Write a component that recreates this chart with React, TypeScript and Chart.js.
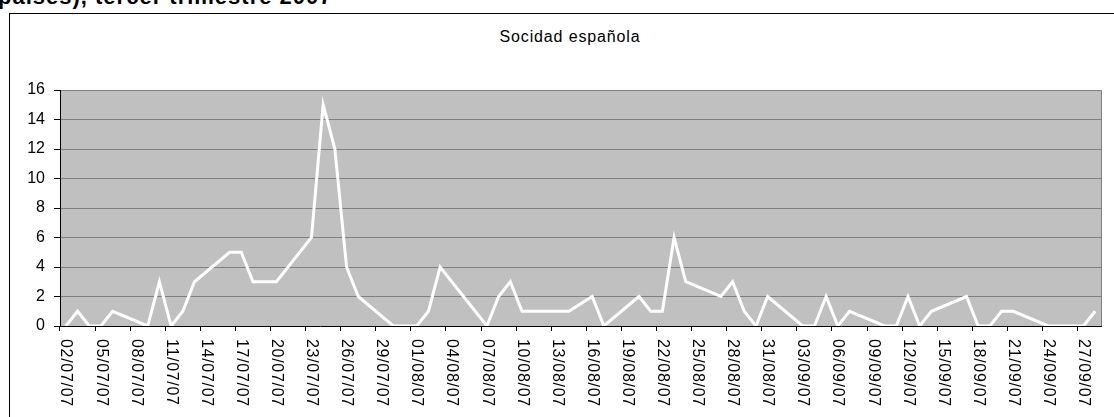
import React, { useEffect, useRef } from 'react';
import { Chart, registerables } from 'chart.js';

Chart.register(...registerables);

const headingText = 'países), tercer trimestre 2007';
const chartTitle = 'Socidad española';

const categories: string[] = [
  '02/07/07', '03/07/07', '04/07/07', '05/07/07', '06/07/07', '07/07/07', '08/07/07', '09/07/07', '10/07/07', '11/07/07',
  '12/07/07', '13/07/07', '14/07/07', '15/07/07', '16/07/07', '17/07/07', '18/07/07', '19/07/07', '20/07/07', '21/07/07',
  '22/07/07', '23/07/07', '24/07/07', '25/07/07', '26/07/07', '27/07/07', '28/07/07', '29/07/07', '30/07/07', '31/07/07',
  '01/08/07', '02/08/07', '03/08/07', '04/08/07', '05/08/07', '06/08/07', '07/08/07', '08/08/07', '09/08/07', '10/08/07',
  '11/08/07', '12/08/07', '13/08/07', '14/08/07', '15/08/07', '16/08/07', '17/08/07', '18/08/07', '19/08/07', '20/08/07',
  '21/08/07', '22/08/07', '23/08/07', '24/08/07', '25/08/07', '26/08/07', '27/08/07', '28/08/07', '29/08/07', '30/08/07',
  '31/08/07', '01/09/07', '02/09/07', '03/09/07', '04/09/07', '05/09/07', '06/09/07', '07/09/07', '08/09/07', '09/09/07',
  '10/09/07', '11/09/07', '12/09/07', '13/09/07', '14/09/07', '15/09/07', '16/09/07', '17/09/07', '18/09/07', '19/09/07',
  '20/09/07', '21/09/07', '22/09/07', '23/09/07', '24/09/07', '25/09/07', '26/09/07', '27/09/07', '28/09/07',
];

// null = no data for that day (weekends / holiday); the line spans the gap
const values: (number | null)[] = [
  0, 1, 0, 0, 1, null, null, 0, 3, 0,
  1, 3, null, null, 5, 5, 3, 3, 3, null,
  null, 6, 15, 12, 4, 2, null, null, 0, 0,
  0, 1, 4, null, null, 1, 0, 2, 3, 1,
  null, null, 1, 1, null, 2, 0, null, null, 2,
  1, 1, 6, 3, null, null, 2, 3, 1, 0,
  2, null, null, 0, 0, 2, 0, 1, null, null,
  0, 0, 2, 0, 1, null, null, 2, 0, 0,
  1, 1, null, null, 0, 0, 0, 0, 1,
];

const yMin = 0;
const yMax = 16;
const yStep = 2;
const labelEvery = 3;

const FONT = '"Liberation Sans", Arial, sans-serif';

const backgroundPlugin = {
  id: 'plotBackground',
  beforeDraw(chart: any) {
    const { ctx, chartArea } = chart;
    ctx.save();
    ctx.fillStyle = '#C0C0C0';
    ctx.fillRect(chartArea.left, chartArea.top, chartArea.right - chartArea.left, chartArea.bottom - chartArea.top);
    ctx.strokeStyle = '#808080';
    ctx.lineWidth = 1;
    ctx.beginPath();
    ctx.moveTo(chartArea.left, chartArea.top + 0.5);
    ctx.lineTo(chartArea.right + 0.5, chartArea.top + 0.5);
    ctx.lineTo(chartArea.right + 0.5, chartArea.bottom);
    ctx.stroke();
    ctx.restore();
  },
};

const xLabelPlugin = {
  id: 'rotatedXLabels',
  afterDraw(chart: any) {
    const { ctx } = chart;
    const xs = chart.scales.x;
    ctx.save();
    ctx.font = `16px ${FONT}`;
    ctx.fillStyle = '#000';
    (ctx as any).letterSpacing = '0.7px';
    ctx.textAlign = 'left';
    ctx.textBaseline = 'middle';
    categories.forEach((lab, i) => {
      if (i % labelEvery !== 0) return;
      const x = xs.getPixelForValue(i);
      ctx.save();
      ctx.translate(x, 339);
      ctx.rotate(Math.PI / 2);
      ctx.fillText(lab, 0, 0);
      ctx.restore();
    });
    ctx.restore();
  },
};

export default function App() {
  const canvasRef = useRef<HTMLCanvasElement | null>(null);

  useEffect(() => {
    if (!canvasRef.current) return;
    const chart = new Chart(canvasRef.current, {
      type: 'line',
      data: {
        labels: categories,
        datasets: [
          {
            data: values,
            borderColor: '#FFFFFF',
            borderWidth: 3,
            pointRadius: 0,
            tension: 0,
            spanGaps: true,
            fill: false,
          },
        ],
      },
      options: {
        responsive: false,
        animation: false,
        devicePixelRatio: 1,
        layout: { padding: { top: 90, right: 13, left: 0, bottom: 0 } },
        plugins: {
          legend: { display: false },
          title: { display: false },
          tooltip: { enabled: false },
        },
        scales: {
          x: {
            type: 'category',
            offset: true,
            afterFit: (scale: any) => {
              scale.height = 91;
            },
            grid: {
              offset: true,
              drawOnChartArea: false,
              drawTicks: true,
              tickLength: 5,
              tickColor: (ctx: any) => (ctx.index % labelEvery === 0 ? '#000000' : 'rgba(0,0,0,0)'),
            },
            border: { display: true, color: '#000000', width: 1 },
            ticks: { display: false, autoSkip: false },
          },
          y: {
            min: yMin,
            max: yMax,
            afterFit: (scale: any) => {
              scale.width = 60;
            },
            grid: {
              color: (ctx: any) => (ctx.tick && ctx.tick.value === 0 ? 'rgba(0,0,0,0)' : '#808080'),
              tickColor: '#000000',
              tickLength: 6,
              lineWidth: 1,
            },
            border: { display: true, color: '#000000', width: 1 },
            ticks: {
              stepSize: yStep,
              color: '#000000',
              padding: 9,
              font: { family: FONT, size: 16 },
            },
          },
        },
      },
      plugins: [backgroundPlugin, xLabelPlugin],
    });
    return () => chart.destroy();
  }, []);

  return (
    <div
      style={{
        position: 'fixed',
        left: 0,
        top: 0,
        width: 1114,
        height: 417,
        overflow: 'hidden',
        background: '#FFFFFF',
      }}
    >
      <div
        style={{
          position: 'absolute',
          left: -2,
          top: -13.6,
          font: `bold 22px ${FONT}`,
          lineHeight: '22px',
          letterSpacing: '1px',
          whiteSpace: 'nowrap',
          color: '#000',
        }}
      >
        {headingText}
      </div>
      <div
        style={{
          position: 'absolute',
          left: 9,
          top: 13,
          width: 1200,
          height: 500,
          border: '1px solid #000',
        }}
      />
      <div
        style={{
          position: 'absolute',
          left: 570,
          top: 29,
          transform: 'translateX(-50%)',
          font: `16px ${FONT}`,
          lineHeight: '16px',
          letterSpacing: '0.85px',
          whiteSpace: 'nowrap',
          color: '#000',
        }}
      >
        {chartTitle}
      </div>
      <canvas
        ref={canvasRef}
        width={1114}
        height={417}
        style={{ position: 'absolute', left: 0, top: 0, width: 1114, height: 417 }}
      />
    </div>
  );
}
